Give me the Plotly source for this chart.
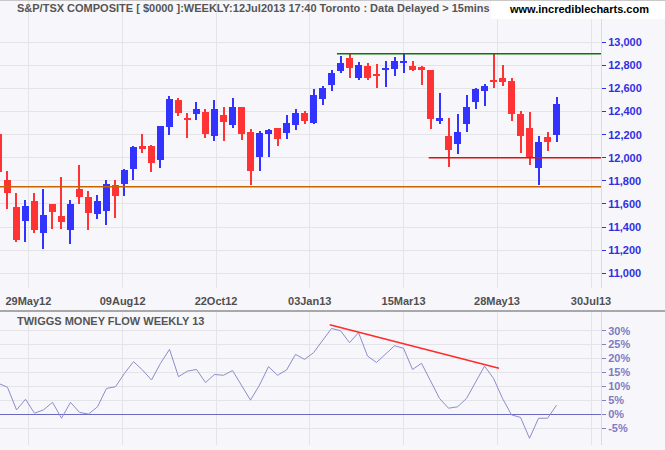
import plotly.graph_objects as go

# ---------------- data ----------------
# weekly bars, index -1 = partially visible first bar, index 61 = week of 12Jul2013
bar_index = list(range(-1, 62))
opens = [12206, 11808, 11574, 11456, 11626, 11352, 11600, 11496, 11378, 11730,
         11661, 11516, 11539, 11765, 11773, 11906, 12098, 12102, 11984, 12270,
         12501, 12345, 12382, 12397, 12190, 12367, 12283, 12436, 12220, 12006,
         12205, 12254, 12214, 12283, 12384, 12301, 12506, 12627, 12748, 12861,
         12687, 12791, 12722, 12762, 12765, 12824, 12791, 12783, 12757, 12324,
         12185, 12116, 12289, 12480, 12575, 12672, 12687, 12661, 12376, 12254,
         11908, 12177, 12194]
highs = [12206, 11886, 11695, 11635, 11695, 11730, 11600, 11837, 11635, 11938,
         11713, 11678, 11808, 11808, 11900, 12100, 12206, 12110, 12275, 12535,
         12518, 12388, 12483, 12423, 12499, 12436, 12514, 12436, 12246, 12231,
         12246, 12254, 12367, 12419, 12402, 12592, 12618, 12757, 12878, 12901,
         12826, 12817, 12809, 12835, 12869, 12901, 12835, 12791, 12757, 12558,
         12341, 12376, 12540, 12601, 12635, 12901, 12800, 12687, 12402, 12393,
         12185, 12220, 12523]
lows = [11880, 11557, 11268, 11268, 11352, 11213, 11387, 11387, 11257, 11600,
        11378, 11473, 11421, 11482, 11672, 11811, 12045, 11880, 11915, 12200,
        12365, 12174, 12330, 12174, 12146, 12145, 12257, 12153, 11764, 11885,
        12006, 12102, 12162, 12240, 12292, 12292, 12454, 12575, 12731, 12687,
        12670, 12670, 12601, 12609, 12705, 12731, 12748, 12627, 12246, 12289,
        11920, 12029, 12223, 12419, 12445, 12601, 12618, 12315, 12038, 11934,
        11761, 12055, 12133]
closes = [11880, 11698, 11291, 11583, 11378, 11505, 11531, 11444, 11600, 11661,
          11525, 11626, 11773, 11672, 11894, 12094, 12083, 11958, 12275, 12509,
          12391, 12330, 12423, 12209, 12421, 12306, 12436, 12205, 11885, 12211,
          12237, 12162, 12298, 12384, 12318, 12540, 12601, 12731, 12817, 12774,
          12800, 12687, 12708, 12776, 12835, 12838, 12757, 12757, 12332, 12341,
          12064, 12220, 12436, 12592, 12618, 12657, 12653, 12376, 12185, 12003,
          12133, 12133, 12462]

# Twiggs Money Flow (weekly, 13) in percent
money_flow = [11.1, 9.7, 1.6, 5.4, 0.4, 1.6, 4.3, -1.4, 4.3, 0.7, 0.1, 2.7, 9.3,
              9.9, 14.7, 18.9, 15.9, 12.3, 18.3, 23.3, 13.5, 15.5, 16.1, 11.4,
              14.3, 14.0, 15.7, 10.5, 5.1, 10.5, 17.1, 14.0, 15.9, 21.5, 19.7,
              22.1, 26.6, 30.8, 30.0, 25.7, 29.3, 20.9, 18.6, 21.5, 24.6, 23.7,
              16.1, 18.3, 11.7, 5.7, 2.2, 2.7, 5.7, 11.4, 17.3, 12.9, 5.7, -0.2,
              -1.1, -8.6, -1.4, -1.4, 3.3]

# x-axis labels and the bar positions where the chart puts them
tick_labels = ["29May12", "09Aug12", "22Oct12", "03Jan13", "15Mar13", "28May13", "30Jul13"]
tick_pos = [2.32, 12.79, 23.17, 33.58, 44.0, 54.39, 64.83]

price_ticks = list(range(11000, 13001, 200))
price_tick_labels = [f"{v:,}" for v in price_ticks]
mf_ticks = [-5, 0, 5, 10, 15, 20, 25, 30]
mf_tick_labels = [f"{v}%" for v in mf_ticks]

# drawn lines
resistance = 12900
resistance_from = 36.6
support = 12000
support_from = 46.8
orange_level = 11750
mf_trend_x = [35.8, 54.6]
mf_trend_y = [32.1, 16.5]

# ---------------- figure ----------------
W, H = 665, 450
RED = "#FF3333"
BLUE = "#3333FF"
BG = "#F7F7FB"
GRID = "#E3E3E8"

x_range = [-0.833, 65.94]
colors = [RED if c < o else BLUE for o, c in zip(opens, closes)]
body_base = [min(o, c) for o, c in zip(opens, closes)]
body_h = [abs(c - o) for o, c in zip(opens, closes)]
wick_h = [h - l for h, l in zip(highs, lows)]

fig = go.Figure()
fig.add_trace(go.Bar(x=bar_index, y=wick_h, base=lows, width=0.115,
                     marker=dict(color=colors, line=dict(width=0)),
                     xaxis="x", yaxis="y", hoverinfo="skip", showlegend=False))
fig.add_trace(go.Bar(x=bar_index, y=body_h, base=body_base, width=0.78,
                     marker=dict(color=colors, line=dict(width=0)),
                     xaxis="x", yaxis="y", showlegend=False))
fig.add_trace(go.Scatter(x=bar_index, y=money_flow, mode="lines",
                         line=dict(color="#8C8CCC", width=1),
                         xaxis="x2", yaxis="y2", showlegend=False))

xdom = [0, 601 / W]
tickfont_x = dict(family="Liberation Sans", size=11, color="#505050", weight="bold")

fig.update_layout(
    template="none",
    width=W, height=H,
    margin=dict(l=0, r=0, t=0, b=0, pad=0, autoexpand=False),
    paper_bgcolor=BG, plot_bgcolor=BG,
    barmode="overlay", bargap=0,
    showlegend=False,
    xaxis=dict(domain=xdom, range=x_range, anchor="y", automargin=False,
               tickvals=tick_pos, ticktext=tick_labels,
               ticks="outside", ticklen=3, tickcolor="rgba(0,0,0,0)",
               tickfont=tickfont_x, showgrid=True, gridcolor=GRID, gridwidth=1,
               zeroline=False, showline=False, fixedrange=True),
    yaxis=dict(domain=[1 - 288 / H, 1], range=[10872.6, 13366], side="right",
               automargin=False,
               tickvals=price_ticks, ticktext=price_tick_labels,
               ticks="outside", ticklen=4, tickcolor="#3030E0",
               tickfont=dict(family="Liberation Sans", size=11, color="#3030E0", weight="bold"),
               showgrid=True, gridcolor=GRID, gridwidth=1, zeroline=False,
               showline=True, linecolor="#DADADF", linewidth=1),
    xaxis2=dict(domain=xdom, range=x_range, anchor="y2", matches="x", automargin=False,
                tickvals=tick_pos, showticklabels=False, ticks="",
                showgrid=True, gridcolor=GRID, gridwidth=1, zeroline=False, showline=False),
    yaxis2=dict(domain=[5 / H, 1 - 312 / H], range=[-11.0, 36.7], side="right",
                automargin=False,
                tickvals=mf_ticks, ticktext=mf_tick_labels,
                ticks="outside", ticklen=4, tickcolor="#8080C4",
                tickfont=dict(family="Liberation Sans", size=11, color="#7C7CC2", weight="bold"),
                showgrid=True, gridcolor=GRID, gridwidth=1,
                zeroline=True, zerolinecolor="#6A6AC0", zerolinewidth=1,
                showline=True, linecolor="#DADADF", linewidth=1),
)

shapes = [
    # price levels
    dict(type="line", xref="x", yref="y", x0=x_range[0], x1=x_range[1],
         y0=orange_level, y1=orange_level, line=dict(color="#C86400", width=1.5)),
    dict(type="line", xref="x", yref="y", x0=resistance_from, x1=x_range[1],
         y0=resistance, y1=resistance, line=dict(color="#0B760B", width=1.5)),
    dict(type="line", xref="x", yref="y", x0=support_from, x1=x_range[1],
         y0=support, y1=support, line=dict(color="#E01010", width=1.5)),
    # money flow trendline
    dict(type="line", xref="x2", yref="y2", x0=mf_trend_x[0], x1=mf_trend_x[1],
         y0=mf_trend_y[0], y1=mf_trend_y[1], line=dict(color="#FF2A2A", width=1.5)),
    # panel separator
    dict(type="line", xref="paper", yref="paper", x0=0, x1=1,
         y0=1 - 311 / H, y1=1 - 311 / H, line=dict(color="#A8A8A8", width=2)),
    # top border
    dict(type="line", xref="paper", yref="paper", x0=0, x1=1,
         y0=1 - 0.5 / H, y1=1 - 0.5 / H, line=dict(color="#C8C8C8", width=1)),
    # white box behind web address
    dict(type="rect", xref="paper", yref="paper", x0=491 / W, x1=1,
         y0=1 - 19 / H, y1=1 - 1 / H, fillcolor="#FFFFFF", line=dict(width=0), layer="above"),
]
fig.update_layout(shapes=shapes)

fig.add_annotation(xref="paper", yref="paper", x=15 / W, y=1 - 8 / H,
                   xanchor="left", yanchor="middle", showarrow=False,
                   text="S&amp;P/TSX COMPOSITE [ $0000 ]:WEEKLY:12Jul2013 17:40 Toronto : Data Delayed &gt; 15mins",
                   font=dict(family="Liberation Sans", size=11, color="#555555", weight="bold"))
fig.add_annotation(xref="paper", yref="paper", x=579 / W, y=1 - 9 / H,
                   xanchor="center", yanchor="middle", showarrow=False,
                   text="www.incrediblecharts.com",
                   font=dict(family="Liberation Sans", size=11, color="#000000", weight="bold"))
fig.add_annotation(xref="paper", yref="paper", x=15 / W, y=1 - 321 / H,
                   xanchor="left", yanchor="middle", showarrow=False,
                   text="TWIGGS MONEY FLOW WEEKLY 13",
                   font=dict(family="Liberation Sans", size=11, color="#555555", weight="bold"))

fig.write_html("out.html", config={"displayModeBar": False},
               post_script="document.body.style.margin='0px';document.body.style.overflow='hidden';")
